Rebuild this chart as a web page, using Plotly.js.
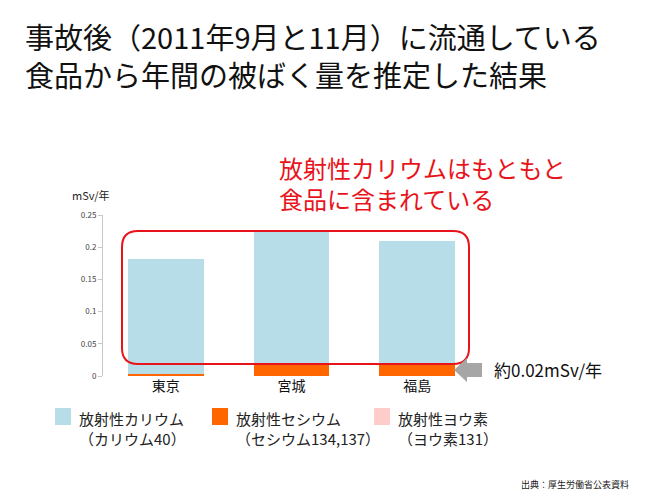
<!DOCTYPE html>
<html><head><meta charset="utf-8">
<script src="https://cdn.plot.ly/plotly-3.0.1.min.js"></script>
<style>body{margin:0;background:#fff}#chart{width:660px;height:495px}</style>
</head><body><div id="chart"></div>
<script>
const categories = ["東京", "宮城", "福島"];
const cesium = [0.0026, 0.0178, 0.0193];
const potassium = [0.179, 0.206, 0.190];
const iodine = [0, 0, 0];
const seriesNames = ["放射性カリウム<br>（カリウム40）", "放射性セシウム<br>（セシウム134,137）", "放射性ヨウ素<br>（ヨウ素131）"];
const seriesColors = ["#b7dde8", "#ff6600", "#ffcccc"];
const yTicks = [0, 0.05, 0.1, 0.15, 0.2, 0.25];

const FONT = '"Noto Sans CJK JP", "Noto Sans", sans-serif';
const W = 660, H = 495;
const L = 103, R = 480, T = 215, B = 376;
const px = x => (x - L) / (R - L);
const py = y => (B - y) / (B - T);

const traces = [
  {type: 'bar', name: 'cesium', x: categories, y: cesium, marker: {color: seriesColors[1]}, showlegend: false, hoverinfo: 'y'},
  {type: 'bar', name: 'potassium', x: categories, y: potassium, marker: {color: seriesColors[0]}, showlegend: false, hoverinfo: 'y'},
  {type: 'bar', name: 'iodine', x: categories, y: iodine, marker: {color: seriesColors[2]}, showlegend: false, hoverinfo: 'y'}
];

// rounded rectangle in paper coords
function roundRect(x0, y0, x1, y1, r) {
  const rx = r / (R - L), ry = r / (B - T);
  const X0 = px(x0), X1 = px(x1), Yt = py(y0), Yb = py(y1);
  return `M${X0 + rx},${Yt} L${X1 - rx},${Yt} Q${X1},${Yt} ${X1},${Yt - ry} L${X1},${Yb + ry} Q${X1},${Yb} ${X1 - rx},${Yb} L${X0 + rx},${Yb} Q${X0},${Yb} ${X0},${Yb + ry} L${X0},${Yt - ry} Q${X0},${Yt} ${X0 + rx},${Yt} Z`;
}
function arrowPath() {
  const pts = [[454, 370], [467, 358], [467, 363], [482, 363], [482, 377], [467, 377], [467, 382]];
  return 'M' + pts.map(p => px(p[0]) + ',' + py(p[1])).join(' L') + ' Z';
}

const shapes = [
  {type: 'path', xref: 'paper', yref: 'paper', path: roundRect(122, 231, 469, 364, 16), line: {color: '#e8141b', width: 2}, fillcolor: 'rgba(0,0,0,0)'},
  {type: 'path', xref: 'paper', yref: 'paper', path: arrowPath(), line: {width: 0}, fillcolor: '#a6a6a6'}
];
const swatchX = [55, 212, 374];
const legendOrder = [0, 1, 2];
const annotations = [
  {xref: 'paper', yref: 'paper', x: px(277), y: py(148), xanchor: 'left', yanchor: 'top', align: 'left', showarrow: false,
   text: '放射性カリウムはもともと<br>食品に含まれている', font: {family: FONT, size: 24, color: '#e8141b'}},
  {xref: 'paper', yref: 'paper', x: px(70), y: py(195), xanchor: 'left', yanchor: 'middle', showarrow: false,
   text: 'mSv/年', font: {family: FONT, size: 11, color: '#222'}},
  {xref: 'paper', yref: 'paper', x: px(492), y: py(369), xanchor: 'left', yanchor: 'middle', showarrow: false,
   text: '約0.02mSv/年', font: {family: FONT, size: 17, color: '#111'}},
  {xref: 'paper', yref: 'paper', x: px(631), y: py(484), xanchor: 'right', yanchor: 'middle', showarrow: false,
   text: '出典：厚生労働省公表資料', font: {family: FONT, size: 9, color: '#222'}}
];
legendOrder.forEach((k, i) => {
  shapes.push({type: 'rect', xref: 'paper', yref: 'paper', x0: px(swatchX[i]), x1: px(swatchX[i] + 16), y0: py(425), y1: py(408),
    fillcolor: seriesColors[k], line: {width: 0}});
  annotations.push({xref: 'paper', yref: 'paper', x: px(swatchX[i] + 22), y: py(406), xanchor: 'left', yanchor: 'top', align: 'left', showarrow: false,
    text: seriesNames[k], font: {family: FONT, size: 15, color: '#222'}});
});

const layout = {
  width: W, height: H,
  margin: {l: L, r: W - R, t: T, b: H - B},
  paper_bgcolor: '#fff', plot_bgcolor: '#fff',
  font: {family: FONT},
  title: {text: '事故後（2011年9月と11月）に流通している<br>食品から年間の被ばく量を推定した結果', xref: 'container', yref: 'container',
    x: 25 / W, xanchor: 'left', y: 1 - 49 / H, yanchor: 'top', font: {family: FONT, size: 29, color: '#111'}},
  barmode: 'stack', bargap: 0.4,
  showlegend: false,
  xaxis: {type: 'category', range: [-0.5, 2.5], showline: false, ticks: '', showgrid: false, zeroline: false,
    tickfont: {family: FONT, size: 14, color: '#111'}, fixedrange: true},
  yaxis: {range: [0, 0.25], tickvals: yTicks, ticktext: yTicks.map(v => String(v)), showline: true, linecolor: '#c8c8c8', linewidth: 1,
    ticks: 'outside', ticklen: 4, tickcolor: '#c8c8c8', showgrid: false, zeroline: false,
    tickfont: {family: FONT, size: 8, color: '#444'}, fixedrange: true},
  shapes: shapes,
  annotations: annotations
};
Plotly.newPlot('chart', traces, layout, {displayModeBar: false, staticPlot: true});
</script></body></html>
